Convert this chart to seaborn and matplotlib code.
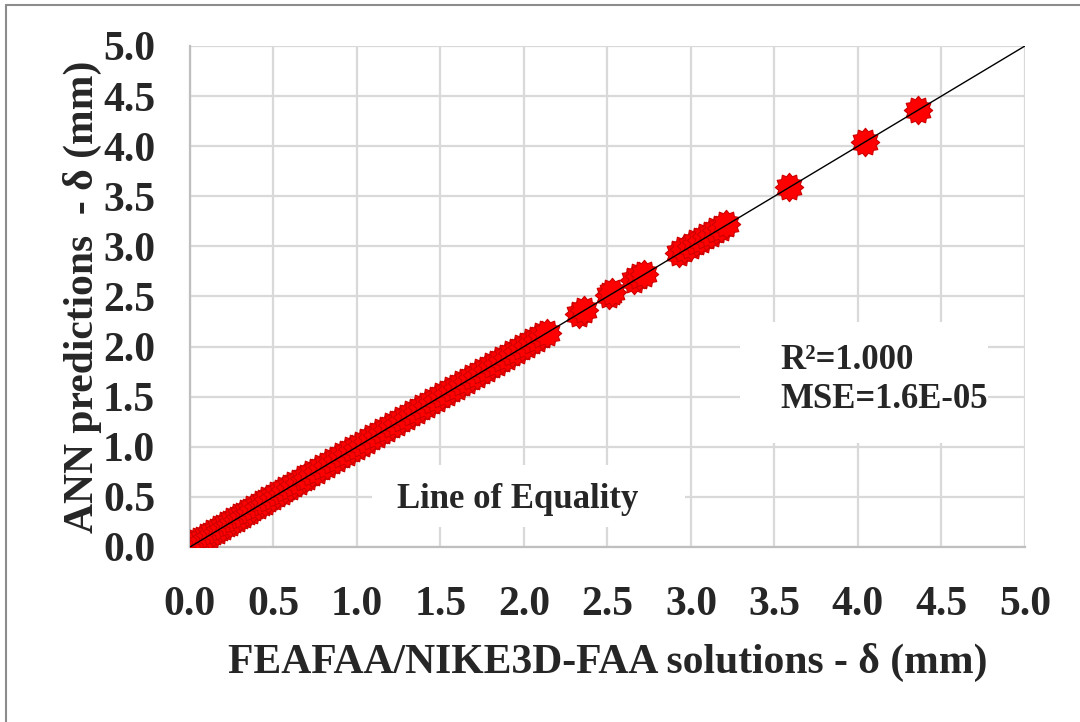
import matplotlib
matplotlib.use("Agg")
import matplotlib.pyplot as plt
import seaborn as sns
import pandas as pd
import numpy as np
from matplotlib.lines import Line2D
from matplotlib.patches import Rectangle
from matplotlib.path import Path

sns.set_theme(style="white")
plt.rcParams['font.family'] = ['Liberation Serif', 'DejaVu Serif']
plt.rcParams['font.weight'] = 'bold'

# FEAFAA/NIKE3D-FAA solutions (mm)
fea = [0.04, 0.06, 0.08, 0.10, 0.12, 0.14, 0.16, 0.18, 0.20, 0.22,
       0.24, 0.26, 0.28, 0.30, 0.32, 0.34, 0.36, 0.38, 0.41, 0.43,
       0.45, 0.47, 0.50, 0.52, 0.55, 0.57, 0.60, 0.62, 0.65, 0.68,
       0.70, 0.73, 0.76, 0.79, 0.82, 0.85, 0.88, 0.91, 0.94, 0.97,
       1.00, 1.03, 1.06, 1.09, 1.12, 1.15, 1.18, 1.21, 1.24, 1.27,
       1.30, 1.33, 1.36, 1.39, 1.42, 1.45, 1.48, 1.51, 1.54, 1.57,
       1.60, 1.63, 1.66, 1.69, 1.72, 1.75, 1.78, 1.81, 1.84, 1.87,
       1.90, 1.93, 1.96, 1.99, 2.02, 2.05, 2.08, 2.11, 2.14,
       2.33, 2.36, 2.51, 2.53, 2.66, 2.69, 2.72,
       2.93, 2.96, 3.00, 3.03, 3.06, 3.09, 3.12, 3.15, 3.18, 3.21,
       3.59, 4.04, 4.36]
# ANN predictions (mm)
ann = [0.05, 0.07, 0.08, 0.11, 0.12, 0.15, 0.16, 0.19, 0.20, 0.23,
       0.24, 0.27, 0.28, 0.31, 0.32, 0.35, 0.36, 0.39, 0.41, 0.44,
       0.45, 0.48, 0.50, 0.53, 0.55, 0.58, 0.60, 0.63, 0.65, 0.69,
       0.70, 0.74, 0.76, 0.80, 0.82, 0.86, 0.88, 0.92, 0.94, 0.98,
       1.00, 1.03, 1.06, 1.10, 1.12, 1.16, 1.18, 1.22, 1.24, 1.28,
       1.30, 1.34, 1.36, 1.40, 1.42, 1.46, 1.48, 1.52, 1.54, 1.58,
       1.60, 1.64, 1.66, 1.70, 1.72, 1.76, 1.78, 1.82, 1.84, 1.88,
       1.90, 1.94, 1.96, 2.00, 2.02, 2.06, 2.08, 2.12, 2.14,
       2.33, 2.37, 2.51, 2.54, 2.66, 2.70, 2.72,
       2.93, 2.97, 3.00, 3.04, 3.06, 3.10, 3.12, 3.16, 3.18, 3.22,
       3.59, 4.04, 4.36]

ticks = [0.0, 0.5, 1.0, 1.5, 2.0, 2.5, 3.0, 3.5, 4.0, 4.5, 5.0]
tick_labels = ["0.0", "0.5", "1.0", "1.5", "2.0", "2.5", "3.0", "3.5", "4.0", "4.5", "5.0"]
equality_x = [0.0, 5.0]
equality_y = [0.0, 5.0]

df = pd.DataFrame({"fea": fea, "ann": ann})

# spiky round marker (like the Excel star marker overlay)
n_spikes = 12
ang = np.linspace(0, 2 * np.pi, 2 * n_spikes, endpoint=False)
rad = np.where(np.arange(2 * n_spikes) % 2 == 0, 1.0, 0.78)
verts = np.column_stack([rad * np.cos(ang), rad * np.sin(ang)])
verts = np.vstack([verts, verts[:1]])
blob = Path(verts, closed=True)

fig = plt.figure(figsize=(10.8, 7.22), dpi=100)
ax = fig.add_axes([0.1759, 0.2424, 0.949 - 0.1759, 0.9363 - 0.2424])

sns.scatterplot(data=df, x="fea", y="ann", ax=ax, marker=blob, s=420,
                color="#ff0000", edgecolor="#cc0000", linewidth=0.8, zorder=3, legend=False)
sns.lineplot(x=equality_x, y=equality_y, ax=ax, color="black", linewidth=1.0, zorder=4)

ax.set_xlim(0, 5)
ax.set_ylim(0, 5)
ax.set_xticks(ticks)
ax.set_yticks(ticks)
ax.set_xticklabels(tick_labels, fontsize=30, fontweight='bold')
ax.set_yticklabels(tick_labels, fontsize=30, fontweight='bold')
ax.tick_params(axis='x', length=0, pad=28)
ax.tick_params(axis='y', length=0, pad=25)
ax.grid(True, color="#d9d9d9", linewidth=1.6, zorder=0)
ax.set_axisbelow(True)
for side in ["top", "right"]:
    ax.spines[side].set_visible(False)
for side in ["left", "bottom"]:
    ax.spines[side].set_color("#bfbfbf")
    ax.spines[side].set_linewidth(1.6)

ax.set_xlabel("FEAFAA/NIKE3D-FAA solutions - δ (mm)", fontsize=30, fontweight='bold', labelpad=14)
ax.set_ylabel("ANN predictions  - δ (mm)", fontsize=30, fontweight='bold', labelpad=1)

# white label boxes
ax.add_patch(Rectangle((0.218, 0.040), 0.593 - 0.218, 0.164 - 0.040, transform=ax.transAxes,
                       facecolor='white', edgecolor='none', zorder=2))
ax.text(0.392, 0.094, "Line of Equality", transform=ax.transAxes, fontsize=25,
        fontweight='bold', ha='center', va='center', zorder=5)
ax.add_patch(Rectangle((0.659, 0.2076), 0.956 - 0.659, 0.449 - 0.2076, transform=ax.transAxes,
                       facecolor='white', edgecolor='none', zorder=2))
ax.text(0.7066, 0.333, "R²=1.000\nMSE=1.6E-05", transform=ax.transAxes, fontsize=25,
        fontweight='bold', ha='left', va='center', linespacing=1.25, zorder=5)

# figure frame (top and left edges visible)
fig.add_artist(Line2D([6/1080, 1.0], [1 - 5/722, 1 - 5/722], transform=fig.transFigure,
                      color="#8c8c8c", linewidth=1.5))
fig.add_artist(Line2D([6/1080, 6/1080], [0.0, 1 - 5/722], transform=fig.transFigure,
                      color="#8c8c8c", linewidth=1.5))

fig.savefig("out.png", dpi=100, facecolor="white")
